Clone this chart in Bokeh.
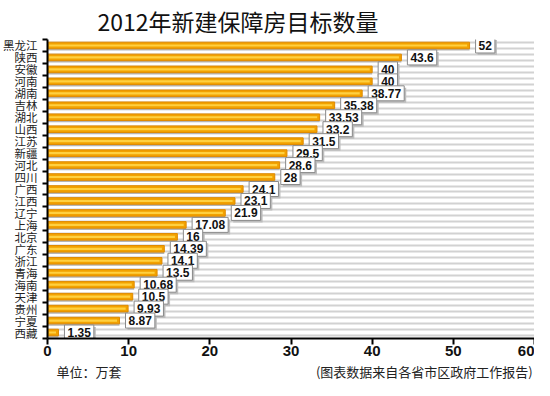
from bokeh.plotting import figure
from bokeh.layouts import column
from bokeh.models import ColumnDataSource, FixedTicker
from bokeh.core.properties import value
from bokeh.embed import file_html
from bokeh.resources import INLINE

title_text = "2012年新建保障房目标数量"
unit_text = "单位：万套"
source_text = "(图表数据来自各省市区政府工作报告)"

provinces = ["黑龙江", "陕西", "安徽", "河南", "湖南", "吉林", "湖北", "山西", "江苏",
             "新疆", "河北", "四川", "广西", "江西", "辽宁", "上海", "北京", "广东",
             "浙江", "青海", "海南", "天津", "贵州", "宁夏", "西藏"]
targets = [52, 43.6, 40, 40, 38.77, 35.38, 33.53, 33.2, 31.5,
           29.5, 28.6, 28, 24.1, 23.1, 21.9, 17.08, 16, 14.39,
           14.1, 13.5, 10.68, 10.5, 9.93, 8.87, 1.35]
x_ticks = [0, 10, 20, 30, 40, 50, 60]

n = len(provinces)
ys = [n - 1 - i for i in range(n)]
labels = [f"{v:g}" for v in targets]

src = ColumnDataSource(dict(
    y=ys, v=targets, lab=labels,
    ys=[y - 0.2 for y in ys],
    vh=[max(v - 0.3, 0) for v in targets],
))

CJK = "Noto Sans CJK SC"
LAT = "Liberation Sans"

p = figure(width=534, height=362, x_range=(0, 60), y_range=(-0.5, n - 0.5),
           output_backend="svg", toolbar_location=None,
           min_border_left=39, min_border_right=0, min_border_top=34, min_border_bottom=24)
p.outline_line_color = None
p.background_fill_color = "white"

# title
p.title.text = title_text
p.title.align = "left"
p.title.offset = 50
p.title.standoff = 3
p.title.text_font = CJK
p.title.text_font_size = "23px"
p.title.text_font_style = "normal"
p.title.text_color = "#111111"

# stripes
p.xgrid.grid_line_color = None
p.ygrid.ticker = FixedTicker(ticks=[y + d for y in ys for d in (-0.25, 0.25)])
p.ygrid.grid_line_color = "#d2d2d2"
p.ygrid.grid_line_width = 2

# bars: shadow, body, highlight
p.hbar(y="ys", left=0, right="v", height=0.45, source=src,
       fill_color="#b5b5b5", line_color=None)
p.hbar(y="y", left=0, right="v", height=0.55, source=src,
       fill_color="#f2a200", line_color="#e08a00", line_width=1)
p.hbar(y="y", left=0.2, right="vh", height=0.18, source=src,
       fill_color="#ffd040", line_color=None)

# value boxes: shadow then box
p.text(x="v", y="y", text="lab", source=src, x_offset=8, y_offset=2,
       text_baseline="middle", text_align="left",
       text_font=value(LAT), text_font_style="bold",
       text_font_size="12px", text_color=None,
       background_fill_color="#bdbdbd", padding=3)
p.text(x="v", y="y", text="lab", source=src, x_offset=6,
       text_baseline="middle", text_align="left",
       text_font=value(LAT), text_font_style="bold",
       text_font_size="12px", text_color="#111111",
       background_fill_color="white", border_line_color="#8a8a8a", padding=3)

# axes
ya = p.yaxis[0]
ya.ticker = FixedTicker(ticks=ys, minor_ticks=[k + 0.5 for k in range(-1, n)])
ya.major_label_overrides = {y: name for y, name in zip(ys, provinces)}
ya.major_tick_out = 0
ya.major_tick_in = 0
ya.minor_tick_out = 5
ya.minor_tick_in = 0
ya.minor_tick_line_width = 2
ya.minor_tick_line_color = "black"
ya.axis_line_width = 2
ya.axis_line_color = "black"
ya.major_label_text_font = CJK
ya.major_label_text_font_size = "11.5px"
ya.major_label_text_color = "#222222"
ya.major_label_standoff = 5

xa = p.xaxis[0]
xa.ticker = FixedTicker(ticks=x_ticks)
xa.major_tick_out = 6
xa.major_tick_in = 0
xa.major_tick_line_width = 2
xa.major_tick_line_color = "black"
xa.axis_line_width = 2
xa.axis_line_color = "black"
xa.major_label_text_font = LAT
xa.major_label_text_font_style = "bold"
xa.major_label_text_font_size = "15px"
xa.major_label_text_color = "#111111"
xa.major_label_standoff = 1

# footer strip (pixel coordinates across the page width)
foot = figure(width=534, height=18, x_range=(0, 534), y_range=(0, 1),
              output_backend="svg", toolbar_location=None,
              x_axis_location=None, y_axis_location=None,
              min_border_left=0, min_border_right=0, min_border_top=0, min_border_bottom=0)
foot.outline_line_color = None
foot.grid.grid_line_color = None
foot.text(x=[10], y=[0.5], text=[unit_text], text_font=value(CJK),
          text_font_size="13px", text_baseline="middle", text_align="left",
          text_color="#222222")
foot.text(x=[532], y=[0.5], text=[source_text], text_font=value(CJK),
          text_font_size="13px", text_baseline="middle", text_align="right",
          text_color="#222222")

layout = column(p, foot, spacing=0)
open("out.html", "w").write(file_html(layout, INLINE))
